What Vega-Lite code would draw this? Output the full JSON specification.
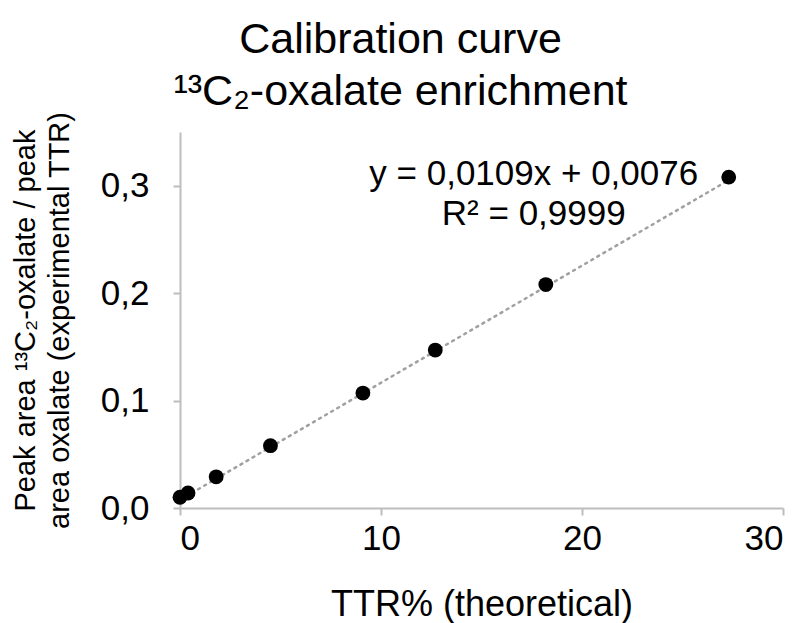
{
  "$schema": "https://vega.github.io/schema/vega-lite/v6.json",
  "width": 603,
  "height": 376,
  "autosize": "none",
  "padding": {"left": 180, "top": 132, "right": 17, "bottom": 115},
  "background": "white",
  "config": {
    "view": {"stroke": null},
    "font": "Liberation Sans",
    "axis": {"grid": false, "domainColor": "#bdbdbd", "domainWidth": 2, "tickColor": "#bdbdbd", "tickWidth": 2, "tickSize": 7, "labelFont": "Liberation Sans", "labelFontSize": 35, "labelColor": "#000", "titleFont": "Liberation Sans", "titleColor": "#000", "titleFontWeight": "normal"}
  },
  "title": {
    "text": ["Calibration curve", "¹³C₂-oxalate enrichment"],
    "fontSize": 43,
    "fontWeight": "normal",
    "font": "Liberation Sans",
    "color": "#000",
    "anchor": "middle",
    "dx": -81,
    "lineHeight": 52,
    "offset": -3
  },
  "datasets": {
    "points": [
      {"ttr": 0, "ratio": 0.010},
      {"ttr": 0.4, "ratio": 0.014},
      {"ttr": 1.8, "ratio": 0.029},
      {"ttr": 4.5, "ratio": 0.058},
      {"ttr": 9.1, "ratio": 0.107},
      {"ttr": 12.7, "ratio": 0.147},
      {"ttr": 18.2, "ratio": 0.208},
      {"ttr": 27.3, "ratio": 0.308}
    ],
    "trend": [
      {"ttr": 0, "ratio": 0.0076},
      {"ttr": 27.3, "ratio": 0.3052}
    ],
    "labels": [
      {"ttr": 17.6, "ratio": 0.311, "label": "y = 0,0109x + 0,0076"},
      {"ttr": 17.6, "ratio": 0.274, "label": "R² = 0,9999"}
    ]
  },
  "layer": [
    {
      "data": {"name": "trend"},
      "mark": {"type": "line", "color": "#a0a0a0", "strokeWidth": 2.5, "strokeDash": [2, 5], "strokeCap": "round", "clip": false},
      "encoding": {
        "x": {"field": "ttr", "type": "quantitative", "scale": {"domain": [0, 30], "nice": false}, "axis": {"values": [0, 10, 20, 30], "title": "TTR% (theoretical)", "titleFontSize": 36, "labelPadding": 6, "titlePadding": 31}},
        "y": {"field": "ratio", "type": "quantitative", "scale": {"domain": [0, 0.35], "nice": false}, "axis": {"values": [0, 0.1, 0.2, 0.3], "labelExpr": "replace(format(datum.value, '.1f'), '.', ',')", "title": ["Peak area ¹³C₂-oxalate / peak", "area oxalate (experimental TTR)"], "titleFontSize": 29, "titleLineHeight": 34, "labelPadding": 24, "titlePadding": 26}}
      }
    },
    {
      "data": {"name": "points"},
      "mark": {"type": "point", "filled": true, "color": "#000", "opacity": 1, "size": 220, "clip": false},
      "encoding": {
        "x": {"field": "ttr", "type": "quantitative"},
        "y": {"field": "ratio", "type": "quantitative"}
      }
    },
    {
      "data": {"name": "labels"},
      "mark": {"type": "text", "fontSize": 35, "font": "Liberation Sans", "color": "#000", "align": "center", "baseline": "middle"},
      "encoding": {
        "x": {"field": "ttr", "type": "quantitative"},
        "y": {"field": "ratio", "type": "quantitative"},
        "text": {"field": "label"}
      }
    }
  ]
}
